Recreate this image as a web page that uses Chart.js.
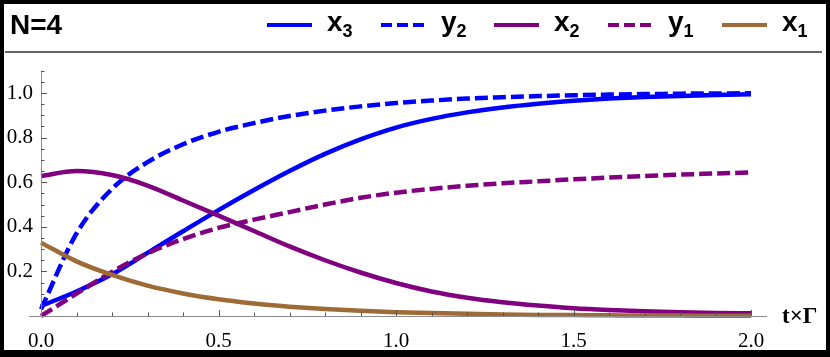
<!DOCTYPE html>
<html>
<head>
<meta charset="utf-8">
<script src="https://cdn.jsdelivr.net/npm/chart.js@4"></script>
<style>
body { margin: 0; background: #fff; }
#wrap { position: relative; width: 830px; height: 357px; overflow: hidden; background: #fff; }
#chart { position: absolute; left: 0; top: 0; }
.frame { position: absolute; left: 0; top: 0; width: 830px; height: 357px; box-sizing: border-box;
         border: 4px solid #000; border-bottom-width: 7px; pointer-events: none; }
.rule { position: absolute; left: 5px; top: 51px; width: 817px; height: 2px; background: #666; }
.hd { position: absolute; font: bold 28px "Liberation Sans", Arial, sans-serif; line-height: 28px;
      color: #000; white-space: nowrap; }
.hd sub { font-size: 18px; vertical-align: -6px; line-height: 0; }
.key { position: absolute; top: 23px; height: 4px; width: 45px; }
.axlabel { position: absolute; left: 782px; top: 304px; font: bold 23px "Liberation Serif", serif;
           line-height: 23px; color: #000; }
</style>
</head>
<body>
<div id="wrap">
  <canvas id="chart" width="830" height="357"></canvas>
  <div class="hd" style="left:10px; top:11px;">N=4</div>
  <div id="keys"></div>
  <div class="rule"></div>
  <div class="axlabel">t×Γ</div>
  <div class="frame"></div>
</div>
<script>
// time axis (t x Gamma)
const t = [0, 0.1, 0.2, 0.3, 0.4, 0.5, 0.6, 0.7, 0.8, 0.9, 1.0,
           1.1, 1.2, 1.3, 1.4, 1.5, 1.6, 1.7, 1.8, 1.9, 2.0];

// values
const x3 = [0.045, 0.11, 0.187, 0.283, 0.38, 0.475, 0.565, 0.65, 0.727, 0.792, 0.845,
            0.884, 0.913, 0.935, 0.952, 0.965, 0.975, 0.982, 0.987, 0.991, 0.994];
const y2 = [0.03, 0.37, 0.57, 0.69, 0.77, 0.826, 0.865, 0.897, 0.921, 0.94, 0.955,
            0.966, 0.975, 0.981, 0.986, 0.99, 0.993, 0.995, 0.997, 0.998, 0.999];
const x2 = [0.628, 0.650, 0.632, 0.585, 0.518, 0.450, 0.381, 0.312, 0.250, 0.195, 0.148,
            0.110, 0.082, 0.062, 0.047, 0.035, 0.027, 0.021, 0.017, 0.014, 0.012];
const y1 = [0, 0.10, 0.198, 0.281, 0.345, 0.395, 0.432, 0.466, 0.500, 0.530, 0.553,
            0.570, 0.584, 0.595, 0.604, 0.613, 0.621, 0.628, 0.634, 0.639, 0.644];
const x1 = [0.329, 0.245, 0.184, 0.136, 0.101, 0.075, 0.056, 0.042, 0.031, 0.023, 0.017,
            0.013, 0.010, 0.007, 0.005, 0.004, 0.003, 0.002, 0.002, 0.001, 0.001];

const names = [['x', '3'], ['y', '2'], ['x', '2'], ['y', '1'], ['x', '1']];
const colors = ['#0000ff', '#0000ff', '#800080', '#800080', '#9e6a36'];
const dashed = [false, true, false, true, false];
const values = [x3, y2, x2, y1, x1];

// header legend
const keyLeft = [267, 381, 494, 608, 722];
const keys = document.getElementById('keys');
names.forEach((n, i) => {
    const line = document.createElement('div');
    line.className = 'key';
    line.style.left = keyLeft[i] + 'px';
    line.style.background = dashed[i]
        ? `repeating-linear-gradient(to right, ${colors[i]} 0 11px, transparent 11px 16px)`
        : colors[i];
    keys.appendChild(line);
    const txt = document.createElement('div');
    txt.className = 'hd';
    txt.style.left = (keyLeft[i] + 60) + 'px';
    txt.style.top = '8px';
    txt.innerHTML = n[0] + '<sub>' + n[1] + '</sub>';
    keys.appendChild(txt);
});

const isMult = (v, s) => Math.abs(v / s - Math.round(v / s)) < 1e-6;

// Mathematica-like axes: lines through the origin, ticks pointing inwards
const axesPlugin = {
    id: 'axes',
    afterDatasetsDraw(chart) {
        const ctx = chart.ctx;
        const xs = chart.scales.x, ys = chart.scales.y;
        const x0 = xs.getPixelForValue(0), y0 = ys.getPixelForValue(0);
        ctx.save();
        ctx.strokeStyle = '#8c8c8c';
        ctx.lineWidth = 1;
        ctx.beginPath();
        ctx.moveTo(x0 - 12, y0 + 0.5);
        ctx.lineTo(xs.right, y0 + 0.5);
        ctx.moveTo(x0 + 0.5, ys.top);
        ctx.lineTo(x0 + 0.5, y0);
        ctx.stroke();
        ctx.strokeStyle = '#555';
        ctx.beginPath();
        xs.ticks.forEach(tk => {
            if (tk.value === 0) return;
            const px = Math.round(xs.getPixelForValue(tk.value)) + 0.5;
            const len = isMult(tk.value, 0.5) ? 6 : 3.5;
            ctx.moveTo(px, y0);
            ctx.lineTo(px, y0 - len);
        });
        ys.ticks.forEach(tk => {
            if (tk.value === 0) return;
            const py = Math.round(ys.getPixelForValue(tk.value)) + 0.5;
            const len = isMult(tk.value, 0.2) ? 6 : 3.5;
            ctx.moveTo(x0, py);
            ctx.lineTo(x0 + len, py);
        });
        ctx.stroke();
        ctx.restore();
    }
};

const datasets = values.map((vals, i) => ({
    label: names[i].join(''),
    data: t.map((tt, j) => ({ x: tt, y: vals[j] })),
    borderColor: colors[i],
    borderWidth: 4.5,
    borderDash: dashed[i] ? [13, 5] : [],
    borderCapStyle: 'butt',
    pointRadius: 0,
    fill: false,
    cubicInterpolationMode: 'monotone',
    clip: false,
    order: values.length - i
}));

const chart = document.querySelector('#chart').getContext('2d');

new Chart(chart, {
    type: 'line',
    data: { datasets: datasets },
    options: {
        responsive: false,
        animation: false,
        layout: { padding: { left: 0, top: 70.7, right: 63, bottom: 0 } },
        plugins: { legend: { display: false }, tooltip: { enabled: false } },
        scales: {
            x: {
                type: 'linear',
                min: 0,
                max: 2.045,
                grid: { display: false, drawTicks: false },
                border: { display: false },
                afterFit: s => { s.height = 41; },
                ticks: {
                    stepSize: 0.1,
                    includeBounds: false,
                    autoSkip: false,
                    maxRotation: 0,
                    padding: 13,
                    color: '#000',
                    font: { family: '"Liberation Serif", serif', size: 21 },
                    callback: v => isMult(v, 0.5) ? v.toFixed(1) : ''
                }
            },
            y: {
                min: 0,
                max: 1.1,
                grid: { display: false, drawTicks: false },
                border: { display: false },
                afterFit: s => { s.width = 41; },
                ticks: {
                    stepSize: 0.05,
                    includeBounds: false,
                    autoSkip: false,
                    padding: 8,
                    color: '#000',
                    font: { family: '"Liberation Serif", serif', size: 21 },
                    callback: v => (v > 0 && isMult(v, 0.2)) ? v.toFixed(1) : ''
                }
            }
        }
    },
    plugins: [axesPlugin]
});
</script>
</body>
</html>
